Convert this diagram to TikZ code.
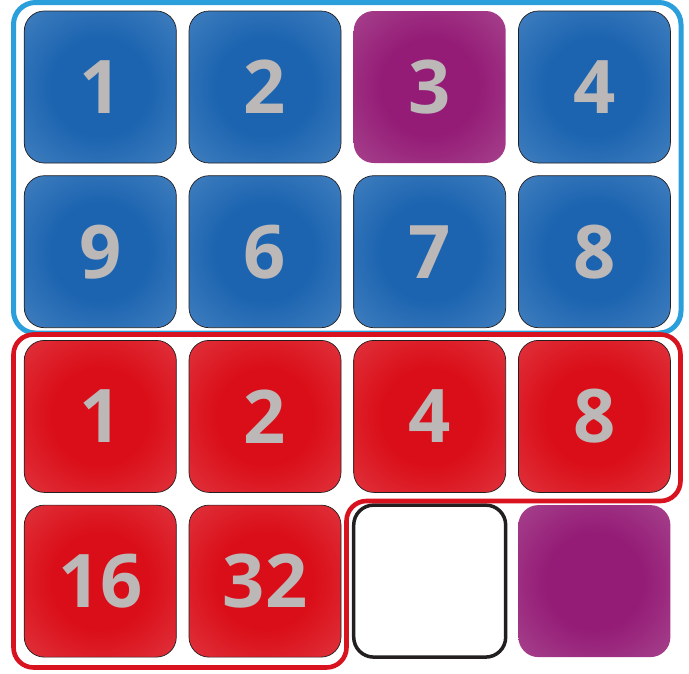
\documentclass[tikz,border=0pt]{standalone}
\usepackage{fontspec}
\setsansfont{Open Sans}
\usepackage{xcolor}
\usepackage{tikz}
\usetikzlibrary{positioning}
\definecolor{TileBlue}{RGB}{28,100,176}
\definecolor{TileBlueEdge}{RGB}{80,138,197}
\definecolor{TileRed}{RGB}{218,14,24}
\definecolor{TileRedEdge}{RGB}{226,66,76}
\definecolor{TilePurple}{RGB}{148,28,118}
\definecolor{TilePurpleEdge}{RGB}{174,82,150}
\definecolor{TileEdge}{RGB}{35,31,32}
\definecolor{DigitGrey}{RGB}{188,184,184}
\definecolor{FrameBlue}{RGB}{42,159,219}
\definecolor{FrameRed}{RGB}{216,18,30}
\pgfdeclareradialshading{blueglow}{\pgfpoint{0bp}{0bp}}{color(0bp)=(TileBlue); color(16bp)=(TileBlue); color(44bp)=(TileBlueEdge); color(72bp)=(TileBlueEdge)}
\pgfdeclareradialshading{redglow}{\pgfpoint{0bp}{0bp}}{color(0bp)=(TileRed); color(16bp)=(TileRed); color(44bp)=(TileRedEdge); color(72bp)=(TileRedEdge)}
\pgfdeclareradialshading{purpleglow}{\pgfpoint{0bp}{0bp}}{color(0bp)=(TilePurple); color(16bp)=(TilePurple); color(44bp)=(TilePurpleEdge); color(72bp)=(TilePurpleEdge)}
\begin{document}
\begin{tikzpicture}[
        node distance=12.7pt,
        tile/.style={minimum size=152pt,inner sep=0pt,outer sep=0pt,rounded corners=20pt,
                     font=\sffamily\bfseries\fontsize{74}{74}\selectfont,text=DigitGrey},
        bluetile/.style={tile,draw=TileEdge,line width=0.7pt,shade,shading=blueglow},
        redtile/.style={tile,draw=TileEdge,line width=0.7pt,shade,shading=redglow},
        purpletile/.style={tile,shade,shading=purpleglow},
        emptytile/.style={tile,draw=TileEdge,line width=3.5pt,fill=white},
        frame/.style={line width=5pt,rounded corners=22pt}
      ]
        \useasboundingbox (0,0) rectangle (689pt,-673pt);
        \node[bluetile] (B1) at (100.3pt,-87pt) {1};
        \node[bluetile,right=of B1] (B2) {2};
        \node[purpletile,right=of B2] (P3) {3};
        \node[bluetile,right=of P3] (B4) {4};
        \node[bluetile,below=of B1] (B9) {9};
        \node[bluetile,right=of B9] (B6) {6};
        \node[bluetile,right=of B6] (B7) {7};
        \node[bluetile,right=of B7] (B8) {8};
        \node[redtile,below=of B9] (R1) {1};
        \node[redtile,right=of R1] (R2) {2};
        \node[redtile,right=of R2] (R4) {4};
        \node[redtile,right=of R4] (R8) {8};
        \node[redtile,below=of R1] (R16) {16};
        \node[redtile,right=of R16] (R32) {32};
        \node[emptytile,right=of R32] (E) {};
        \node[purpletile,right=of E] (P) {};
        % frames
        \draw[frame,FrameBlue] ([shift={(-10.8pt,8.5pt)}]B1.north west) rectangle ([shift={(10.6pt,-5.3pt)}]B8.south east);
        \draw[frame,FrameRed,line width=4.6pt,rounded corners=20pt]
          ([shift={(-10.8pt,5.9pt)}]R1.north west) -- ([shift={(10.1pt,5.9pt)}]R8.north east)
          -- ([shift={(10.1pt,-8.6pt)}]R8.south east) -- ([shift={(-7.2pt,4.1pt)}]E.north west)
          -- ([shift={(-7.2pt,-10.4pt)}]E.south west) -- ([shift={(-10.8pt,-10.4pt)}]R16.south west) -- cycle;
      \end{tikzpicture}
\end{document}
